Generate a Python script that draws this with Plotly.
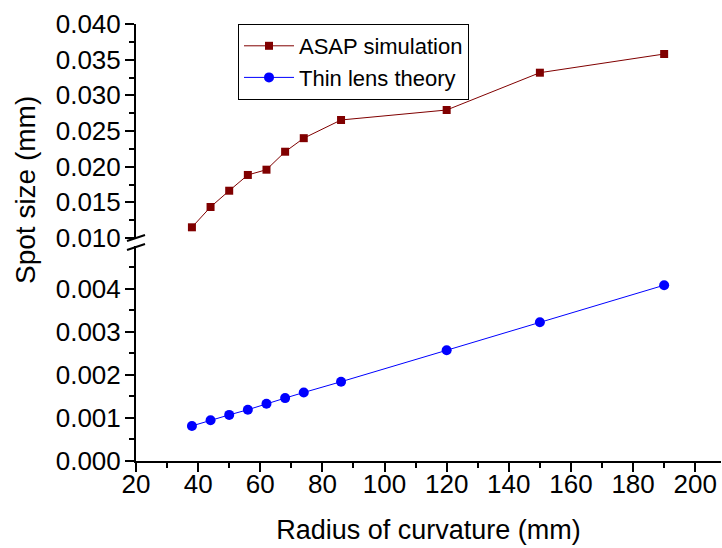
import plotly.graph_objects as go

# Data
radius = [38, 44, 50, 56, 62, 68, 74, 86, 120, 150, 190]
asap_sim = [0.0115, 0.01435, 0.01663, 0.01884, 0.01958, 0.0221, 0.0240, 0.02655, 0.02795, 0.03318, 0.0358]
thin_lens = [0.000814, 0.000946, 0.00107, 0.00119, 0.00133, 0.00146, 0.00159, 0.00184, 0.00257, 0.00322, 0.00408]

FONT = "Arial, 'Liberation Sans', sans-serif"
W, H = 722, 548
L, R, T, B = 136, 1, 24, 87
plot_h = H - T - B

def py2paper(py):
    return (H - B - py) / plot_h

fig = go.Figure()
fig.add_trace(go.Scatter(
    x=radius, y=asap_sim, name="ASAP simulation", mode="lines+markers",
    line=dict(color="#800000", width=1),
    marker=dict(symbol="square", size=8, color="#800000"),
    xaxis="x", yaxis="y2"))
fig.add_trace(go.Scatter(
    x=radius, y=thin_lens, name="Thin lens theory", mode="lines+markers",
    line=dict(color="#0000FF", width=1),
    marker=dict(symbol="circle", size=10, color="#0000FF"),
    xaxis="x", yaxis="y"))

axis_common = dict(showline=True, linecolor="black", linewidth=2, ticks="outside",
                   tickcolor="black", tickwidth=2, ticklen=9, showgrid=False, zeroline=False,
                   tickfont=dict(family=FONT, size=26, color="black"))

fig.update_layout(
    width=W, height=H,
    margin=dict(l=L, r=R, t=T, b=B),
    paper_bgcolor="white", plot_bgcolor="white",
    font=dict(family=FONT, color="black"),
    xaxis=dict(range=[20, 208.3], tick0=0, dtick=20, anchor="y",
               minor=dict(dtick=10, ticks="outside", ticklen=5, tickwidth=2, tickcolor="black"),
               ticklabelstandoff=-10,
               title=dict(text="Radius of curvature (mm)", font=dict(family=FONT, size=27), standoff=22),
               **axis_common),
    yaxis=dict(domain=[0, py2paper(246)], range=[0, 0.00499], tick0=0, dtick=0.001,
               tickformat=".3f", anchor="x",
               minor=dict(dtick=0.0005, ticks="outside", ticklen=5, tickwidth=2, tickcolor="black"),
               ticklabelstandoff=-1,
               **axis_common),
    yaxis2=dict(domain=[py2paper(238), 1], range=[0.010, 0.04001], tick0=0, dtick=0.005,
                tickformat=".3f", anchor="x",
                minor=dict(dtick=0.0025, ticks="outside", ticklen=5, tickwidth=2, tickcolor="black"),
                ticklabelstandoff=-1,
                **axis_common),
    legend=dict(x=(238 - L) / (W - L - R), y=1, xanchor="left", yanchor="top",
                bgcolor="white", bordercolor="black", borderwidth=1,
                font=dict(family=FONT, size=22, color="black"),
                itemwidth=50, tracegroupgap=0),
    showlegend=True,
)

# shared y-axis title
fig.add_annotation(text="Spot size (mm)", textangle=-90, xref="paper", yref="paper",
                   x=0, y=py2paper(190), xanchor="center", yanchor="middle",
                   xshift=-(L - 25), showarrow=False,
                   font=dict(family=FONT, size=28, color="black"))

# axis break marks
for cy in (238, 247):
    fig.add_shape(type="line", xref="paper", yref="paper",
                  xsizemode="pixel", ysizemode="pixel", xanchor=0, yanchor=py2paper(cy),
                  x0=-9, x1=9, y0=-3, y1=3,
                  line=dict(color="black", width=2))

fig.write_html("out.html")
